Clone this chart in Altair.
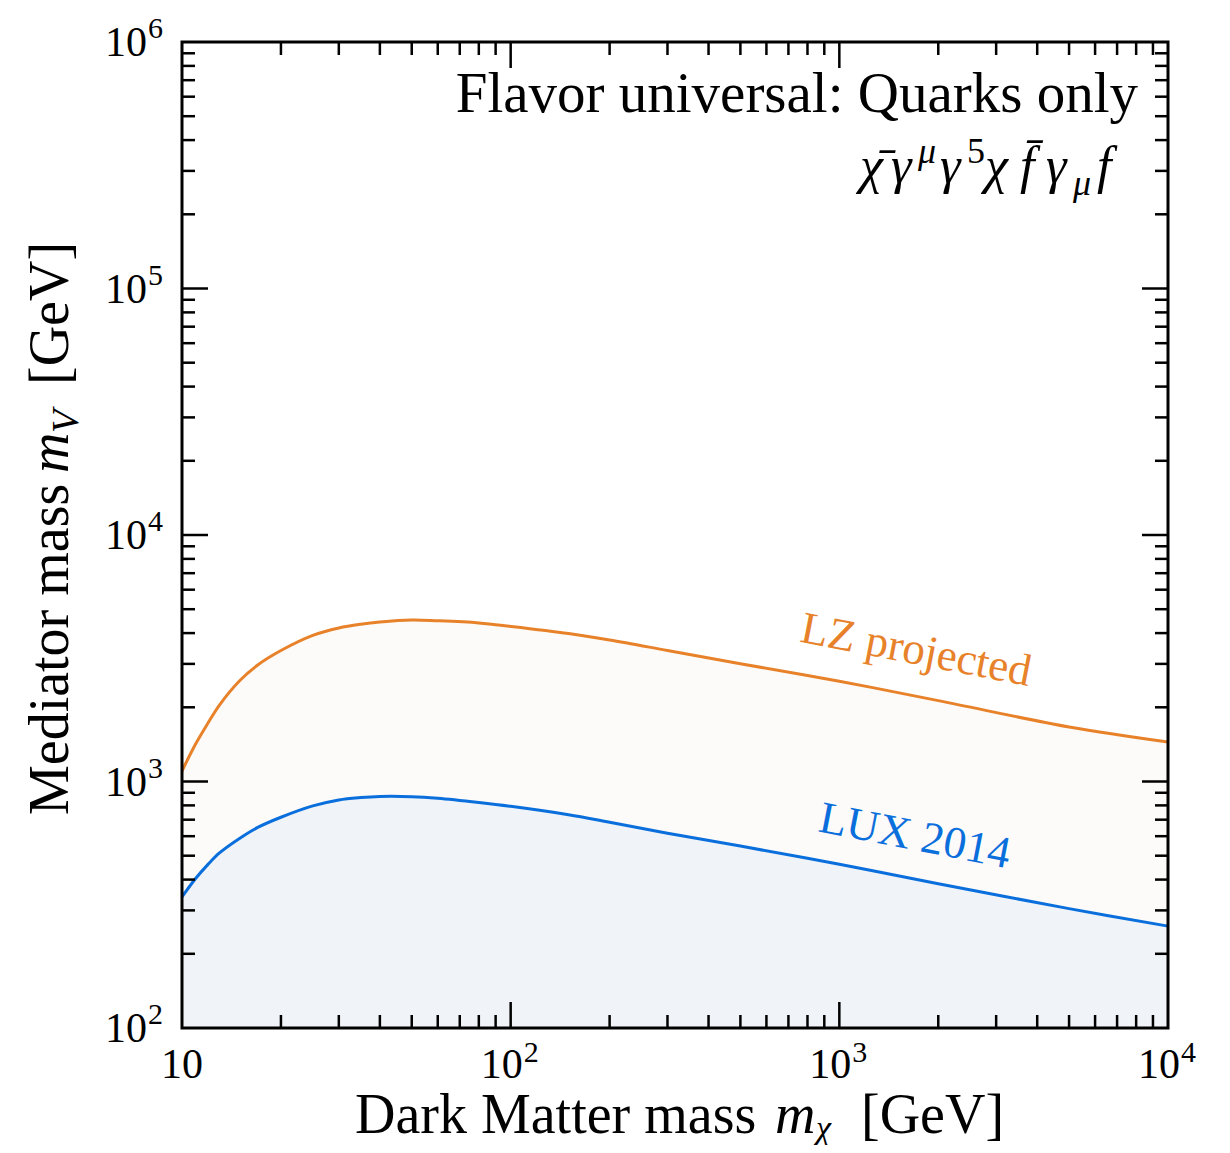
import altair as alt
import pandas as pd

# ---------------- data ----------------
mass = [10, 11, 12, 13, 15, 17, 20, 25, 30, 35, 40, 50, 60, 80, 100, 150, 200, 300, 500,
        1000, 2000, 5000, 10000]
lz_projected = [1103, 1419, 1727, 2043, 2569, 2969, 3398, 3914, 4195, 4346, 4437, 4521, 4487,
                4396, 4258, 3985, 3750, 3402, 3005, 2550, 2129, 1664, 1446]
lux_2014 = [340, 404, 461, 513, 589, 651, 716, 796, 842, 861, 870, 868, 855, 822, 793, 733,
            683, 617, 547, 462, 385, 305, 259]

x_major_ticks = [100, 1000]
x_minor_ticks = [20, 30, 40, 50, 60, 70, 80, 90,
                 200, 300, 400, 500, 600, 700, 800, 900,
                 2000, 3000, 4000, 5000, 6000, 7000, 8000, 9000]
y_major_ticks = [1e3, 1e4, 1e5]
y_minor_ticks = [k * 10 ** d for d in range(2, 6) for k in range(2, 10)]

x_label_values = [100, 1000, 10000]
x_label_exps = ["2", "3", "4"]
y_label_values = [1e2, 1e3, 1e4, 1e5, 1e6]
y_label_exps = ["2", "3", "4", "5", "6"]

# ---------------- style ----------------
W = H = 986
FONT = "Liberation Serif"
ORANGE = "#E8822A"
BLUE = "#0A6FDC"
LZ_FILL = "#FCFBF9"
LUX_FILL = "#F0F4F8"
INTERP = "catmull-rom"

xs = alt.Scale(type="log", domain=[10, 10000], nice=False)
ys = alt.Scale(type="log", domain=[100, 1e6], nice=False)

curves = pd.DataFrame({"mass": mass, "lz": lz_projected, "lux": lux_2014,
                       "floor": [100] * len(mass)})

X = alt.X("mass:Q", scale=xs, axis=None)

lz_area = alt.Chart(curves).mark_area(color=LZ_FILL, interpolate=INTERP).encode(
    x=X, y=alt.Y("lz:Q", scale=ys, axis=None), y2=alt.Y2("floor:Q"))
lux_area = alt.Chart(curves).mark_area(color=LUX_FILL, interpolate=INTERP).encode(
    x=X, y=alt.Y("lux:Q", scale=ys, axis=None), y2=alt.Y2("floor:Q"))
lz_line = alt.Chart(curves).mark_line(color=ORANGE, strokeWidth=3, interpolate=INTERP).encode(
    x=X, y=alt.Y("lz:Q", scale=ys, axis=None))
lux_line = alt.Chart(curves).mark_line(color=BLUE, strokeWidth=3, interpolate=INTERP).encode(
    x=X, y=alt.Y("lux:Q", scale=ys, axis=None))

one = pd.DataFrame({"a": [0]})


def xticks(vals, length):
    d = pd.DataFrame({"v": vals})
    base = alt.Chart(d).mark_rule(color="black", strokeWidth=2.5)
    xe = alt.X("v:Q", scale=xs, axis=None)
    return [base.encode(x=xe, y=alt.value(H), y2=alt.value(H - length)),
            base.encode(x=xe, y=alt.value(0), y2=alt.value(length))]


def yticks(vals, length):
    d = pd.DataFrame({"v": vals})
    base = alt.Chart(d).mark_rule(color="black", strokeWidth=2.5)
    ye = alt.Y("v:Q", scale=ys, axis=None)
    return [base.encode(y=ye, x=alt.value(0), x2=alt.value(length)),
            base.encode(y=ye, x=alt.value(W), x2=alt.value(W - length))]


def txt(text, x, y, size, style="normal", color="black", align="left", angle=0,
        baseline="alphabetic"):
    return alt.Chart(one).mark_text(
        font=FONT, fontSize=size, fontStyle=style, color=color, align=align,
        angle=angle, baseline=baseline).encode(
        x=alt.value(x), y=alt.value(y), text=alt.value(text))


frame = alt.Chart(one).mark_rect(fillOpacity=0, stroke="black", strokeWidth=3).encode(
    x=alt.value(0), x2=alt.value(W), y=alt.value(0), y2=alt.value(H))

# tick labels
xl = pd.DataFrame({"v": x_label_values, "base": ["10"] * 3, "exp": x_label_exps})
x_lab_ten = txt("10", 0, 1036, 42, align="center")
x_lab_base = alt.Chart(xl).mark_text(font=FONT, fontSize=42, align="center", dx=-9,
                                     baseline="alphabetic").encode(
    x=alt.X("v:Q", scale=xs, axis=None), y=alt.value(1036), text="base:N")
x_lab_exp = alt.Chart(xl).mark_text(font=FONT, fontSize=30, align="left", dx=13,
                                    baseline="alphabetic").encode(
    x=alt.X("v:Q", scale=xs, axis=None), y=alt.value(1020), text="exp:N")

yl = pd.DataFrame({"v": y_label_values, "base": ["10"] * 5, "exp": y_label_exps})
y_lab_base = alt.Chart(yl).mark_text(font=FONT, fontSize=42, align="right", dy=14,
                                     baseline="alphabetic").encode(
    y=alt.Y("v:Q", scale=ys, axis=None), x=alt.value(-35), text="base:N")
y_lab_exp = alt.Chart(yl).mark_text(font=FONT, fontSize=30, align="left", dy=-4,
                                    baseline="alphabetic").encode(
    y=alt.Y("v:Q", scale=ys, axis=None), x=alt.value(-34), text="exp:N")

# axis titles (pieces for the math parts)
x_title = [
    txt("Dark Matter mass", 173, 1091, 56),
    txt("m", 593, 1091, 56, style="italic"),
    txt("χ", 634, 1097, 34, style="italic"),
    txt("[GeV]", 679, 1091, 56),
]
y_title = [
    txt("Mediator mass", -114, 773, 56, angle=270),
    txt("m", -114, 431, 56, style="italic", angle=270),
    txt("V", -104, 391, 38, style="italic", angle=270),
    txt("[GeV]", -114, 343, 56, angle=270),
]

# annotations
top_title = txt("Flavor universal: Quarks only", 956, 70, 57, align="right")
formula = [
    txt("χ̄", 678, 141, 52, style="italic"),
    txt("γ", 709, 141, 52, style="italic"),
    txt("μ", 736, 121, 36, style="italic"),
    txt("γ", 758, 141, 52, style="italic"),
    txt("5", 785, 121, 36),
    txt("χ", 803, 141, 52, style="italic"),
    txt("f̄", 838, 141, 52, style="italic"),
    txt("γ", 864, 141, 52, style="italic"),
    txt("μ", 891, 153, 36, style="italic"),
    txt("f", 915, 141, 52, style="italic"),
]
lz_label = txt("LZ projected", 734, 608, 45, color=ORANGE, align="center", angle=11,
               baseline="middle")
lux_label = txt("LUX 2014", 733, 794, 45, color=BLUE, align="center", angle=11,
                baseline="middle")

layers = ([lz_area, lux_area, lz_line, lux_line]
          + xticks(x_major_ticks, 26) + xticks(x_minor_ticks, 13)
          + yticks(y_major_ticks, 26) + yticks(y_minor_ticks, 13)
          + [frame, x_lab_ten, x_lab_base, x_lab_exp, y_lab_base, y_lab_exp]
          + x_title + y_title + [top_title] + formula + [lz_label, lux_label])

chart = alt.layer(*layers).properties(
    width=W, height=H,
    padding={"left": 174, "top": 34, "right": 54, "bottom": 117},
    autosize=alt.AutoSizeParams(type="none"),
).configure_view(stroke=None)

chart.save("out.html", embed_options={"renderer": "svg", "actions": False})
